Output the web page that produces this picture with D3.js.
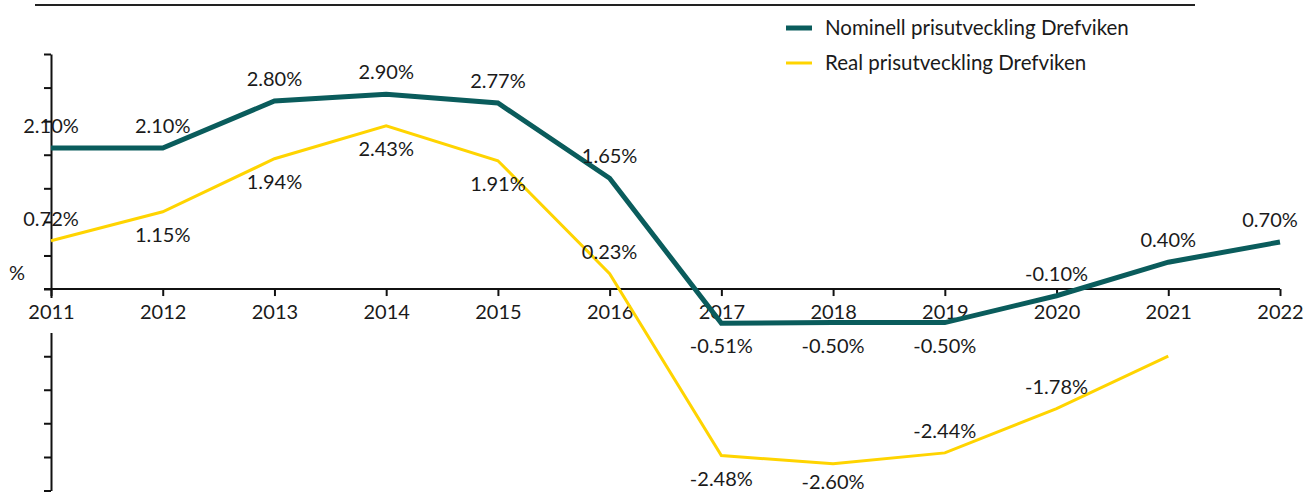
<!DOCTYPE html>
<html>
<head>
<meta charset="utf-8">
<script src="https://cdn.jsdelivr.net/npm/d3@7"></script>
<style>
  body { margin: 0; background: #fff; }
  text { font-family: Lato, "Open Sans", sans-serif; fill: #1a1a1a; }
</style>
</head>
<body>
<div id="chart"></div>
<script>
// Years on the x axis
const years = ['2011', '2012', '2013', '2014', '2015', '2016', '2017', '2018', '2019', '2020', '2021', '2022'];

// Series values in percent
const nominal = [2.10, 2.10, 2.80, 2.90, 2.77, 1.65, -0.51, -0.50, -0.50, -0.10, 0.40, 0.70];
const real = [0.72, 1.15, 1.94, 2.43, 1.91, 0.23, -2.48, -2.60, -2.44, -1.78, -1.00, null];

// Where each data label sits (null = no label)
const nominalLabelPos = ['above', 'above', 'above', 'above', 'above', 'above', 'below', 'below', 'below', 'above', 'above', 'above'];
const realLabelPos = ['above', 'below', 'below', 'below', 'below', 'above', 'below', 'below', 'above', 'above', null, null];

// Y axis tick values
const yTicks = [-3, -2.5, -2, -1.5, -1, -0.5, 0, 0.5, 1, 1.5, 2, 2.5, 3, 3.5];

const seriesNames = ['Nominell prisutveckling Drefviken', 'Real prisutveckling Drefviken'];
const colours = ['#0a5c5c', '#ffd400'];

const W = 1316, H = 494;
const fontSize = '20px';

const svg = d3.select('#chart')
    .append('svg')
    .attr('width', W)
    .attr('height', H);

const x = d3.scalePoint()
    .domain(years)
    .range([51, 1280]);

const y = d3.scaleLinear()
    .domain([-3, 3.5])
    .range([490.5, 54]);

// top border line
svg.append('line')
    .attr('x1', 35).attr('x2', 1195)
    .attr('y1', 5).attr('y2', 5)
    .attr('stroke', '#222')
    .attr('stroke-width', 2);

// clip the y axis where the x tick labels sit
svg.append('clipPath').attr('id', 'yclip')
    .selectAll('rect')
    .data([[-60, 0, 60, y(0) + 9], [-60, 333, 60, H]])
    .enter().append('rect')
    .attr('x', d => d[0]).attr('y', d => d[1])
    .attr('width', d => d[2] - d[0]).attr('height', d => d[3] - d[1]);

// Y axis
const yAxis = svg.append('g')
    .attr('transform', `translate(${x('2011')}, 0)`)
    .attr('clip-path', 'url(#yclip)')
    .call(d3.axisLeft(y).tickValues(yTicks).tickFormat('').tickSizeInner(7).tickSizeOuter(0));
yAxis.selectAll('path, line').attr('stroke', '#111').attr('stroke-width', 2);

// X axis at zero
const xAxis = svg.append('g')
    .attr('transform', `translate(0, ${y(0)})`)
    .call(d3.axisBottom(x).tickSizeInner(7).tickSizeOuter(0).tickPadding(9));
xAxis.select('.domain').attr('d', `M${x('2011') - 7},0H${x('2022')}`);
xAxis.selectAll('path, line').attr('stroke', '#111').attr('stroke-width', 2);
xAxis.selectAll('text')
    .style('font-size', fontSize)
    .style('font-family', 'Lato, sans-serif')
    .attr('fill', '#1a1a1a');

// % unit label
svg.append('text')
    .attr('x', 17)
    .attr('y', 280)
    .attr('text-anchor', 'middle')
    .style('font-size', fontSize)
    .text('%');

// Lines
const line = d3.line()
    .defined(d => d != null)
    .x((d, i) => x(years[i]))
    .y(d => y(d));

svg.append('path')
    .datum(real)
    .attr('fill', 'none')
    .attr('stroke', colours[1])
    .attr('stroke-width', 3)
    .attr('d', line);

svg.append('path')
    .datum(nominal)
    .attr('fill', 'none')
    .attr('stroke', colours[0])
    .attr('stroke-width', 5)
    .attr('d', line);

// Data labels
function addLabels(values, positions) {
    values.forEach((v, i) => {
        if (v == null || positions[i] == null) return;
        let cx = Math.min(x(years[i]), 1270);
        let cy = positions[i] === 'above' ? y(v) - 15 : Math.min(y(v) + 30, 489);
        svg.append('text')
            .attr('x', cx)
            .attr('y', cy)
            .attr('text-anchor', 'middle')
            .style('font-size', fontSize)
            .text(v.toFixed(2) + '%');
    });
}
addLabels(nominal, nominalLabelPos);
addLabels(real, realLabelPos);

// Legend
const legend = svg.append('g').attr('transform', 'translate(786, 28)');
seriesNames.forEach((name, i) => {
    let item = legend.append('g').attr('transform', `translate(0, ${i * 35})`);
    item.append('line')
        .attr('x1', 0).attr('x2', 26)
        .attr('y1', 0).attr('y2', 0)
        .attr('stroke', colours[i])
        .attr('stroke-width', i === 0 ? 5 : 3);
    item.append('text')
        .attr('x', 39)
        .attr('y', 7)
        .style('font-size', '20.5px')
        .text(name);
});
</script>
</body>
</html>
